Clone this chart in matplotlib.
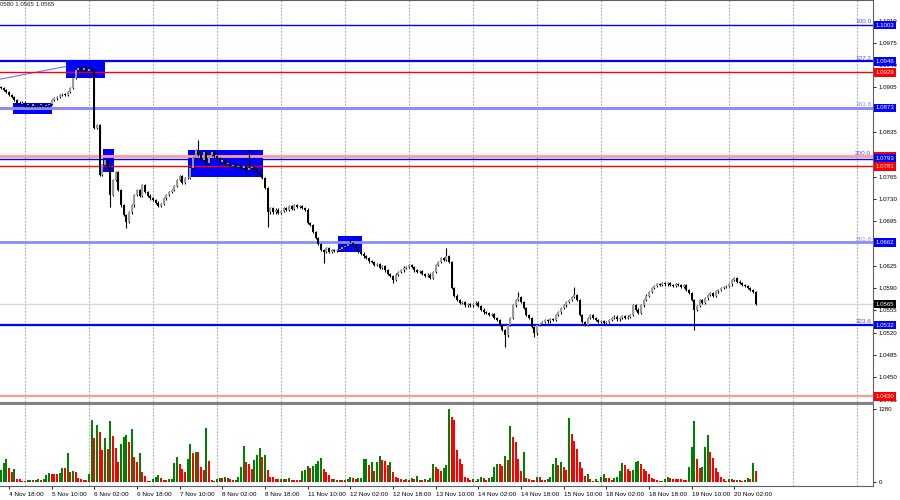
import numpy as np
import matplotlib.pyplot as plt
from matplotlib.patches import Rectangle
import matplotlib.transforms as mtransforms

plt.rcParams['font.family'] = ['Liberation Sans', 'DejaVu Sans']

# EURUSD H1, hourly closes per trading day
day_names = ['4 Nov', '5 Nov', '6 Nov', '7 Nov', '8 Nov', '11 Nov', '12 Nov',
             '13 Nov', '14 Nov', '15 Nov', '18 Nov', '19 Nov', '20 Nov']
day_first_hour = [15, 0, 0, 0, 0, 0, 0, 0, 0, 0, 0, 0, 0]
first_open = 1.0906

close_nov04 = [1.0904, 1.0901, 1.0898, 1.0893, 1.0890, 1.0885, 1.0881, 1.0879, 1.0881]
close_nov05 = [1.0877, 1.0879, 1.0876, 1.0879, 1.0877, 1.0877, 1.0879, 1.0876, 1.0877, 1.0879, 1.0885, 1.0888,
               1.0890, 1.0893, 1.0895, 1.0893, 1.0898, 1.0904, 1.0920, 1.0932, 1.0936, 1.0932, 1.0936, 1.0931]
close_nov06 = [1.0934, 1.0932, 1.0841, 1.0846, 1.0768, 1.0783, 1.0791, 1.0779, 1.0736, 1.0760, 1.0772, 1.0744,
               1.0720, 1.0705, 1.0694, 1.0709, 1.0720, 1.0736, 1.0744, 1.0735, 1.0752, 1.0741, 1.0735, 1.0731]
close_nov07 = [1.0728, 1.0724, 1.0719, 1.0722, 1.0731, 1.0736, 1.0741, 1.0744, 1.0750, 1.0760, 1.0766, 1.0755,
               1.0763, 1.0763, 1.0779, 1.0794, 1.0807, 1.0799, 1.0791, 1.0804, 1.0786, 1.0799, 1.0804, 1.0797]
close_nov08 = [1.0794, 1.0788, 1.0791, 1.0785, 1.0786, 1.0782, 1.0783, 1.0780, 1.0782, 1.0779, 1.0782, 1.0775,
               1.0779, 1.0780, 1.0775, 1.0772, 1.0768, 1.0763, 1.0747, 1.0709, 1.0716, 1.0709, 1.0713, 1.0708]
close_nov11 = [1.0711, 1.0716, 1.0713, 1.0719, 1.0714, 1.0720, 1.0717, 1.0719, 1.0716, 1.0713, 1.0692, 1.0689,
               1.0678, 1.0669, 1.0659, 1.0650, 1.0647, 1.0653, 1.0647, 1.0650, 1.0648, 1.0650, 1.0651, 1.0655]
close_nov12 = [1.0656, 1.0659, 1.0661, 1.0658, 1.0653, 1.0647, 1.0644, 1.0640, 1.0637, 1.0632, 1.0631, 1.0626,
               1.0628, 1.0622, 1.0625, 1.0618, 1.0612, 1.0609, 1.0603, 1.0611, 1.0615, 1.0618, 1.0622, 1.0623]
close_nov13 = [1.0626, 1.0623, 1.0618, 1.0615, 1.0617, 1.0612, 1.0609, 1.0611, 1.0606, 1.0615, 1.0626, 1.0631,
               1.0637, 1.0634, 1.0640, 1.0631, 1.0590, 1.0578, 1.0571, 1.0567, 1.0568, 1.0563, 1.0565, 1.0563]
close_nov14 = [1.0565, 1.0567, 1.0562, 1.0556, 1.0552, 1.0551, 1.0548, 1.0549, 1.0543, 1.0540, 1.0532, 1.0524,
               1.0516, 1.0532, 1.0543, 1.0563, 1.0571, 1.0576, 1.0568, 1.0559, 1.0548, 1.0543, 1.0529, 1.0519]
close_nov15 = [1.0532, 1.0534, 1.0537, 1.0540, 1.0538, 1.0541, 1.0540, 1.0548, 1.0552, 1.0559, 1.0563, 1.0568,
               1.0571, 1.0576, 1.0579, 1.0571, 1.0548, 1.0537, 1.0532, 1.0543, 1.0548, 1.0543, 1.0540, 1.0537]
close_nov18 = [1.0538, 1.0535, 1.0537, 1.0540, 1.0543, 1.0545, 1.0541, 1.0543, 1.0546, 1.0543, 1.0545, 1.0548,
               1.0563, 1.0556, 1.0551, 1.0563, 1.0571, 1.0578, 1.0584, 1.0590, 1.0593, 1.0596, 1.0595, 1.0598]
close_nov19 = [1.0596, 1.0598, 1.0595, 1.0593, 1.0596, 1.0595, 1.0592, 1.0595, 1.0587, 1.0582, 1.0571, 1.0556,
               1.0562, 1.0571, 1.0567, 1.0574, 1.0579, 1.0582, 1.0578, 1.0585, 1.0587, 1.0590, 1.0592, 1.0593]
close_nov20 = [1.0596, 1.0603, 1.0606, 1.0600, 1.0598, 1.0595, 1.0593, 1.0590, 1.0587, 1.0584, 1.0565]

# long shadows (bar number -> price)
spike_highs = {33: 1.0939, 74: 1.0822, 93: 1.0807, 131: 1.0665, 167: 1.0653,
               194: 1.0584, 215: 1.0592, 275: 1.0607}
spike_lows = {41: 1.0717, 47: 1.0684, 100: 1.0686, 121: 1.0629, 147: 1.0598,
              189: 1.0498, 200: 1.0513, 260: 1.0524}

# tick volumes
vol_nov04 = [205, 335, 393, 240, 170, 229, 53, 41, 18]
vol_nov05 = [10, 25, 35, 25, 30, 41, 25, 41, 117, 158, 130, 130, 130, 153, 246, 246, 500, 176, 194, 170, 65, 53, 25, 25]
vol_nov06 = [141, 1086, 763, 992, 875, 558, 763, 569, 1062, 804, 587, 352, 657, 781, 828, 704, 922, 428, 340, 499, 170, 94, 12, 6]
vol_nov07 = [53, 88, 117, 59, 30, 25, 41, 47, 335, 428, 305, 229, 170, 393, 657, 511, 522, 516, 252, 205, 939, 370, 30, 12]
vol_nov08 = [41, 70, 65, 76, 65, 41, 30, 35, 76, 252, 628, 346, 317, 223, 382, 470, 587, 440, 464, 200, 76, 76, 53, 41]
vol_nov11 = [47, 53, 41, 65, 30, 30, 25, 25, 194, 205, 276, 246, 282, 305, 370, 411, 223, 176, 117, 41, 53, 30, 35, 30]
vol_nov12 = [30, 47, 82, 65, 47, 59, 70, 393, 405, 293, 340, 194, 352, 452, 382, 370, 293, 352, 176, 76, 65, 53, 30, 53]
vol_nov13 = [30, 70, 47, 100, 35, 30, 41, 30, 70, 305, 264, 223, 194, 240, 299, 1274, 1133, 1086, 558, 393, 311, 88, 70, 30]
vol_nov14 = [41, 12, 41, 88, 70, 30, 59, 76, 264, 305, 305, 282, 452, 382, 980, 793, 699, 405, 188, 522, 59, 41, 25, 25]
vol_nov15 = [76, 76, 30, 30, 41, 82, 311, 423, 288, 346, 258, 205, 1115, 834, 722, 569, 340, 235, 100, 135, 47, 12, 41, 18]
vol_nov18 = [76, 135, 59, 59, 30, 59, 82, 188, 335, 288, 223, 188, 205, 346, 358, 305, 223, 188, 135, 70, 53, 25, 12, 18]
vol_nov19 = [47, 76, 59, 53, 53, 53, 41, 35, 30, 264, 605, 1068, 393, 240, 264, 616, 822, 516, 411, 240, 170, 88, 53, 18]
vol_nov20 = [47, 41, 30, 35, 25, 18, 30, 59, 40, 323, 194]

# chart objects
levels = [1.1003, 1.0946, 1.0929, 1.0873, 1.0797, 1.0793, 1.0781, 1.0662, 1.0565, 1.0532, 1.0420]
level_line_colors = ['#0000ff', '#0000ff', '#ff0000', '#8c8cff', '#ff9a9a', '#0000ff',
                     '#ff0000', '#8c8cff', '#d8d8d8', '#0000ff', '#ff9a9a']
level_tag_colors = ['#0000ff', '#0000ff', '#ff0000', '#0000ff', '#ff0000', '#0000ff',
                    '#ff0000', '#0000ff', '#000000', '#0000ff', '#ff0000']
level_widths = [1.0, 1.6, 1.0, 2.2, 2.0, 1.0, 1.0, 2.0, 1.0, 1.6, 1.6]
fib_names = ['100.0', '127.2', '161.8', '200.0', '261.8', '323.6']
fib_prices = [1.1003, 1.0946, 1.0873, 1.0797, 1.0662, 1.0532]
fib_colors = ['#4a4aff', '#4a4aff', '#8c8cff', '#4a4aff', '#8c8cff', '#4a4aff']
# boxes: (first bar, last bar, low, high)
zones = [(4.4, 19.1, 1.0864, 1.0881), (24.4, 39.1, 1.0920, 1.0947), (38.1, 42.3, 1.0772, 1.0809),
         (70.2, 98.1, 1.0765, 1.0807), (126.3, 135.3, 1.0646, 1.0672)]
fib_base = ([-0.4, 24.4], [1.0918, 1.0938])

price_ticks = [1.1010, 1.0975, 1.0940, 1.0905, 1.0870, 1.0835, 1.0800, 1.0765, 1.0730,
               1.0695, 1.0660, 1.0625, 1.0590, 1.0555, 1.0520, 1.0485, 1.0450, 1.0415]
# tick labels hidden under the price tags in the original
hidden_ticks = [1.0870, 1.0800, 1.0660]

close_days = [close_nov04, close_nov05, close_nov06, close_nov07, close_nov08, close_nov11, close_nov12,
              close_nov13, close_nov14, close_nov15, close_nov18, close_nov19, close_nov20]
vol_days = [vol_nov04, vol_nov05, vol_nov06, vol_nov07, vol_nov08, vol_nov11, vol_nov12,
            vol_nov13, vol_nov14, vol_nov15, vol_nov18, vol_nov19, vol_nov20]

closes = np.array(sum(close_days, []))
vols = np.array(sum(vol_days, []))
opens = np.r_[first_open, closes[:-1]]
n = len(closes)
idx = np.arange(n)

hours, names, day_start = [], [], []
for d, h0, c in zip(day_names, day_first_hour, close_days):
    if h0 == 0:
        day_start.append(len(hours))
    for k in range(len(c)):
        hours.append(h0 + k)
        names.append(d)

wick = 0.0002
highs = np.maximum(opens, closes) + wick
lows = np.minimum(opens, closes) - wick
for k, v in spike_highs.items():
    highs[k] = v
for k, v in spike_lows.items():
    lows[k] = v

fig = plt.figure(figsize=(9, 5), dpi=100)
ax = fig.add_axes([0, 1 - 402 / 500, 873 / 900, 402 / 500])
axv = fig.add_axes([0, 1 - 486 / 500, 873 / 900, 82 / 500])

x_lo, x_hi = -0.375, 327.0
grid_x = day_start + [day_start[-1] + 24, day_start[-1] + 48]
for a in (ax, axv):
    a.set_xlim(x_lo, x_hi)
    for g in grid_x:
        a.axvline(g, color='#a8a8a8', lw=0.8, ls=(0, (1.5, 1.5)), zorder=0)

# zones and lines
for i0, i1, lo, hi in zones:
    ax.add_patch(Rectangle((i0, lo), i1 - i0, hi - lo, facecolor='#0000ff', edgecolor='none', zorder=1))
ax.plot(fib_base[0], fib_base[1], color='#7070ff', lw=0.8, zorder=2)
for p, c, w in zip(levels, level_line_colors, level_widths):
    ax.axhline(p, color=c, lw=w, zorder=2)

# candles
up = closes >= opens
body_lo = np.minimum(opens, closes)
body_h = np.maximum(np.abs(closes - opens), 0.00005)
ax.vlines(idx, lows, highs, color='black', lw=0.8, zorder=3)
ax.bar(idx, body_h, bottom=body_lo, width=0.8,
       color=np.where(up, '#9a9a9a', '#000000'), edgecolor='none', zorder=4)

ax.set_ylim(1.04112, 1.10423)
ax.yaxis.tick_right()
ax.set_yticks(price_ticks)
ax.set_yticklabels(['' if t in hidden_ticks else f'{t:.4f}' for t in price_ticks])
ax.tick_params(axis='y', labelsize=4.4, length=2.5, width=0.6, pad=1.5, colors='black')
ax.set_xticks([])
ax.spines['left'].set_visible(False)
ax.spines['top'].set_color('#606060')
ax.spines['right'].set_color('#606060')
ax.spines['bottom'].set_color('#808080')
ax.spines['bottom'].set_linewidth(0.8)

trans = mtransforms.blended_transform_factory(ax.transAxes, ax.transData)
for p, c in zip(levels, level_tag_colors):
    ax.text(1.003, p, f'{p:.4f}', transform=trans, fontsize=4.4, color='white', ha='left', va='center',
            bbox=dict(boxstyle='square,pad=0.3', fc=c, ec='none'), clip_on=False, zorder=6)
for nm, p, c in zip(fib_names, fib_prices, fib_colors):
    ax.text(0.998, p + 0.0001, nm, transform=trans, fontsize=4.6, color=c, ha='right', va='bottom', zorder=5)

ax.text(0.0, 0.995, '0580 1.0565 1.0565', transform=ax.transAxes, fontsize=4.4,
        color='#202020', ha='left', va='top')

# volumes: green when above previous bar, red otherwise
vol_up = np.r_[True, vols[1:] > vols[:-1]]
axv.bar(idx, vols, width=0.75, color=np.where(vol_up, '#008000', '#ff0000'), zorder=2)
axv.set_ylim(-76, 1368)
axv.yaxis.tick_right()
axv.set_yticks([0, 1280])
axv.set_yticklabels(['0', '1280'])
axv.tick_params(axis='y', labelsize=4.4, length=2.5, width=0.6, pad=1.5)
axv.spines['left'].set_visible(False)
for s in ['top', 'right', 'bottom']:
    axv.spines[s].set_color('#606060')
axv.spines['top'].set_linewidth(1.1)

label_bars = [i for i in idx if (i - 3) % 16 == 0]
axv.set_xticks(label_bars)
axv.set_xticklabels([f'{names[i]} {hours[i]:02d}:00' for i in label_bars], ha='left')
axv.tick_params(axis='x', labelsize=4.6, length=2.5, width=0.6, pad=1.5)

fig.savefig('out.png', dpi=100)
